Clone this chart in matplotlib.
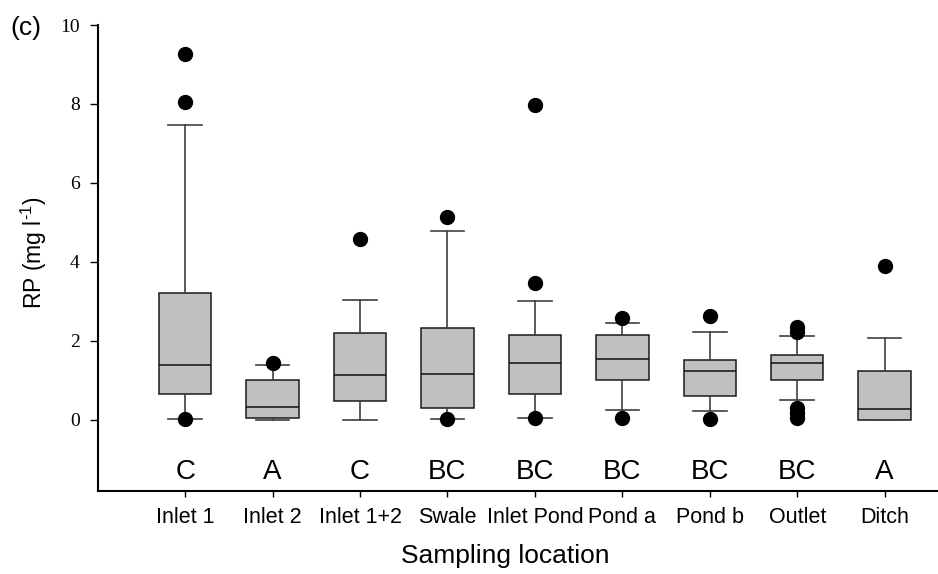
import matplotlib
matplotlib.use("Agg")
import matplotlib.pyplot as plt

plt.rcParams['font.family'] = 'Liberation Sans'
plt.rcParams['mathtext.fontset'] = 'custom'
plt.rcParams['mathtext.rm'] = 'Liberation Sans'
plt.rcParams['mathtext.it'] = 'Liberation Sans:italic'

# box summaries per sampling location (RP, mg/l)
sitios = ['Inlet 1', 'Inlet 2', 'Inlet 1+2', 'Swale', 'Inlet Pond',
          'Pond a', 'Pond b', 'Outlet', 'Ditch']
q1 = [0.65, 0.05, 0.47, 0.29, 0.66, 1.00, 0.61, 1.00, 0.00]
mediana = [1.38, 0.31, 1.12, 1.15, 1.43, 1.53, 1.23, 1.43, 0.26]
q3 = [3.20, 1.00, 2.19, 2.33, 2.14, 2.14, 1.52, 1.63, 1.23]
bigote_inf = [0.01, 0.00, 0.00, 0.01, 0.04, 0.24, 0.21, 0.49, 0.00]
bigote_sup = [7.47, 1.38, 3.04, 4.77, 3.00, 2.46, 2.23, 2.13, 2.08]
atipicos = [[9.27, 8.04, 0.02], [1.44], [4.59], [5.13, 0.02],
            [7.97, 3.47, 0.03], [2.58, 0.03], [2.63, 0.02],
            [2.36, 2.23, 0.29, 0.18, 0.03], [3.89]]
grupos = ['C', 'A', 'C', 'BC', 'BC', 'BC', 'BC', 'BC', 'A']

stats = []
for i in range(len(sitios)):
    stats.append(dict(med=mediana[i], q1=q1[i], q3=q3[i],
                      whislo=bigote_inf[i], whishi=bigote_sup[i],
                      fliers=atipicos[i], label=sitios[i]))

fig = plt.figure(figsize=(9.38, 5.74), dpi=100)
ax = fig.add_axes([0.1042, 0.1451, 0.8958, 0.8113])

pos = list(range(1, len(sitios) + 1))
ax.bxp(stats, positions=pos, widths=0.6, capwidths=0.385, patch_artist=True,
       boxprops=dict(facecolor='#c0c0c0', edgecolor='#1a1a1a', linewidth=1.1),
       medianprops=dict(color='#111111', linewidth=1.1),
       whiskerprops=dict(color='#404040', linewidth=1.2),
       capprops=dict(color='#404040', linewidth=1.2),
       flierprops=dict(marker='o', markerfacecolor='black', markeredgecolor='black',
                       markersize=10, linestyle='none'))

# letras de grupo sobre el eje
for p, g in zip(pos, grupos):
    ax.text(p, -1.32, g, ha='center', va='center', fontsize=20)

ax.set_xlim(0, 9.61)
ax.set_ylim(-1.8, 10)
ax.set_yticks([0, 2, 4, 6, 8, 10])
ax.set_yticklabels(['0', '2', '4', '6', '8', '10'], family='Liberation Serif', fontsize=14)
ax.set_xticks(pos)
ax.set_xticklabels(sitios, fontsize=15.5)
ax.tick_params(axis='y', direction='out', length=6, width=1, pad=7)
ax.tick_params(axis='x', direction='out', length=4.5, width=1, pad=7)

for s in ['top', 'right']:
    ax.spines[s].set_visible(False)
for s in ['left', 'bottom']:
    ax.spines[s].set_linewidth(1.5)

ax.set_xlabel('Sampling location', fontsize=19)
ax.xaxis.set_label_coords(0.485, -0.115)
ax.set_ylabel(r'RP (mg l$^{\mathregular{\text{-}1}}$)', fontsize=16.5)
ax.yaxis.set_label_coords(-0.058, 0.51)

fig.text(0.011, 0.951, '(c)', fontsize=19, va='center', ha='left')

fig.savefig('out.png', dpi=100)
